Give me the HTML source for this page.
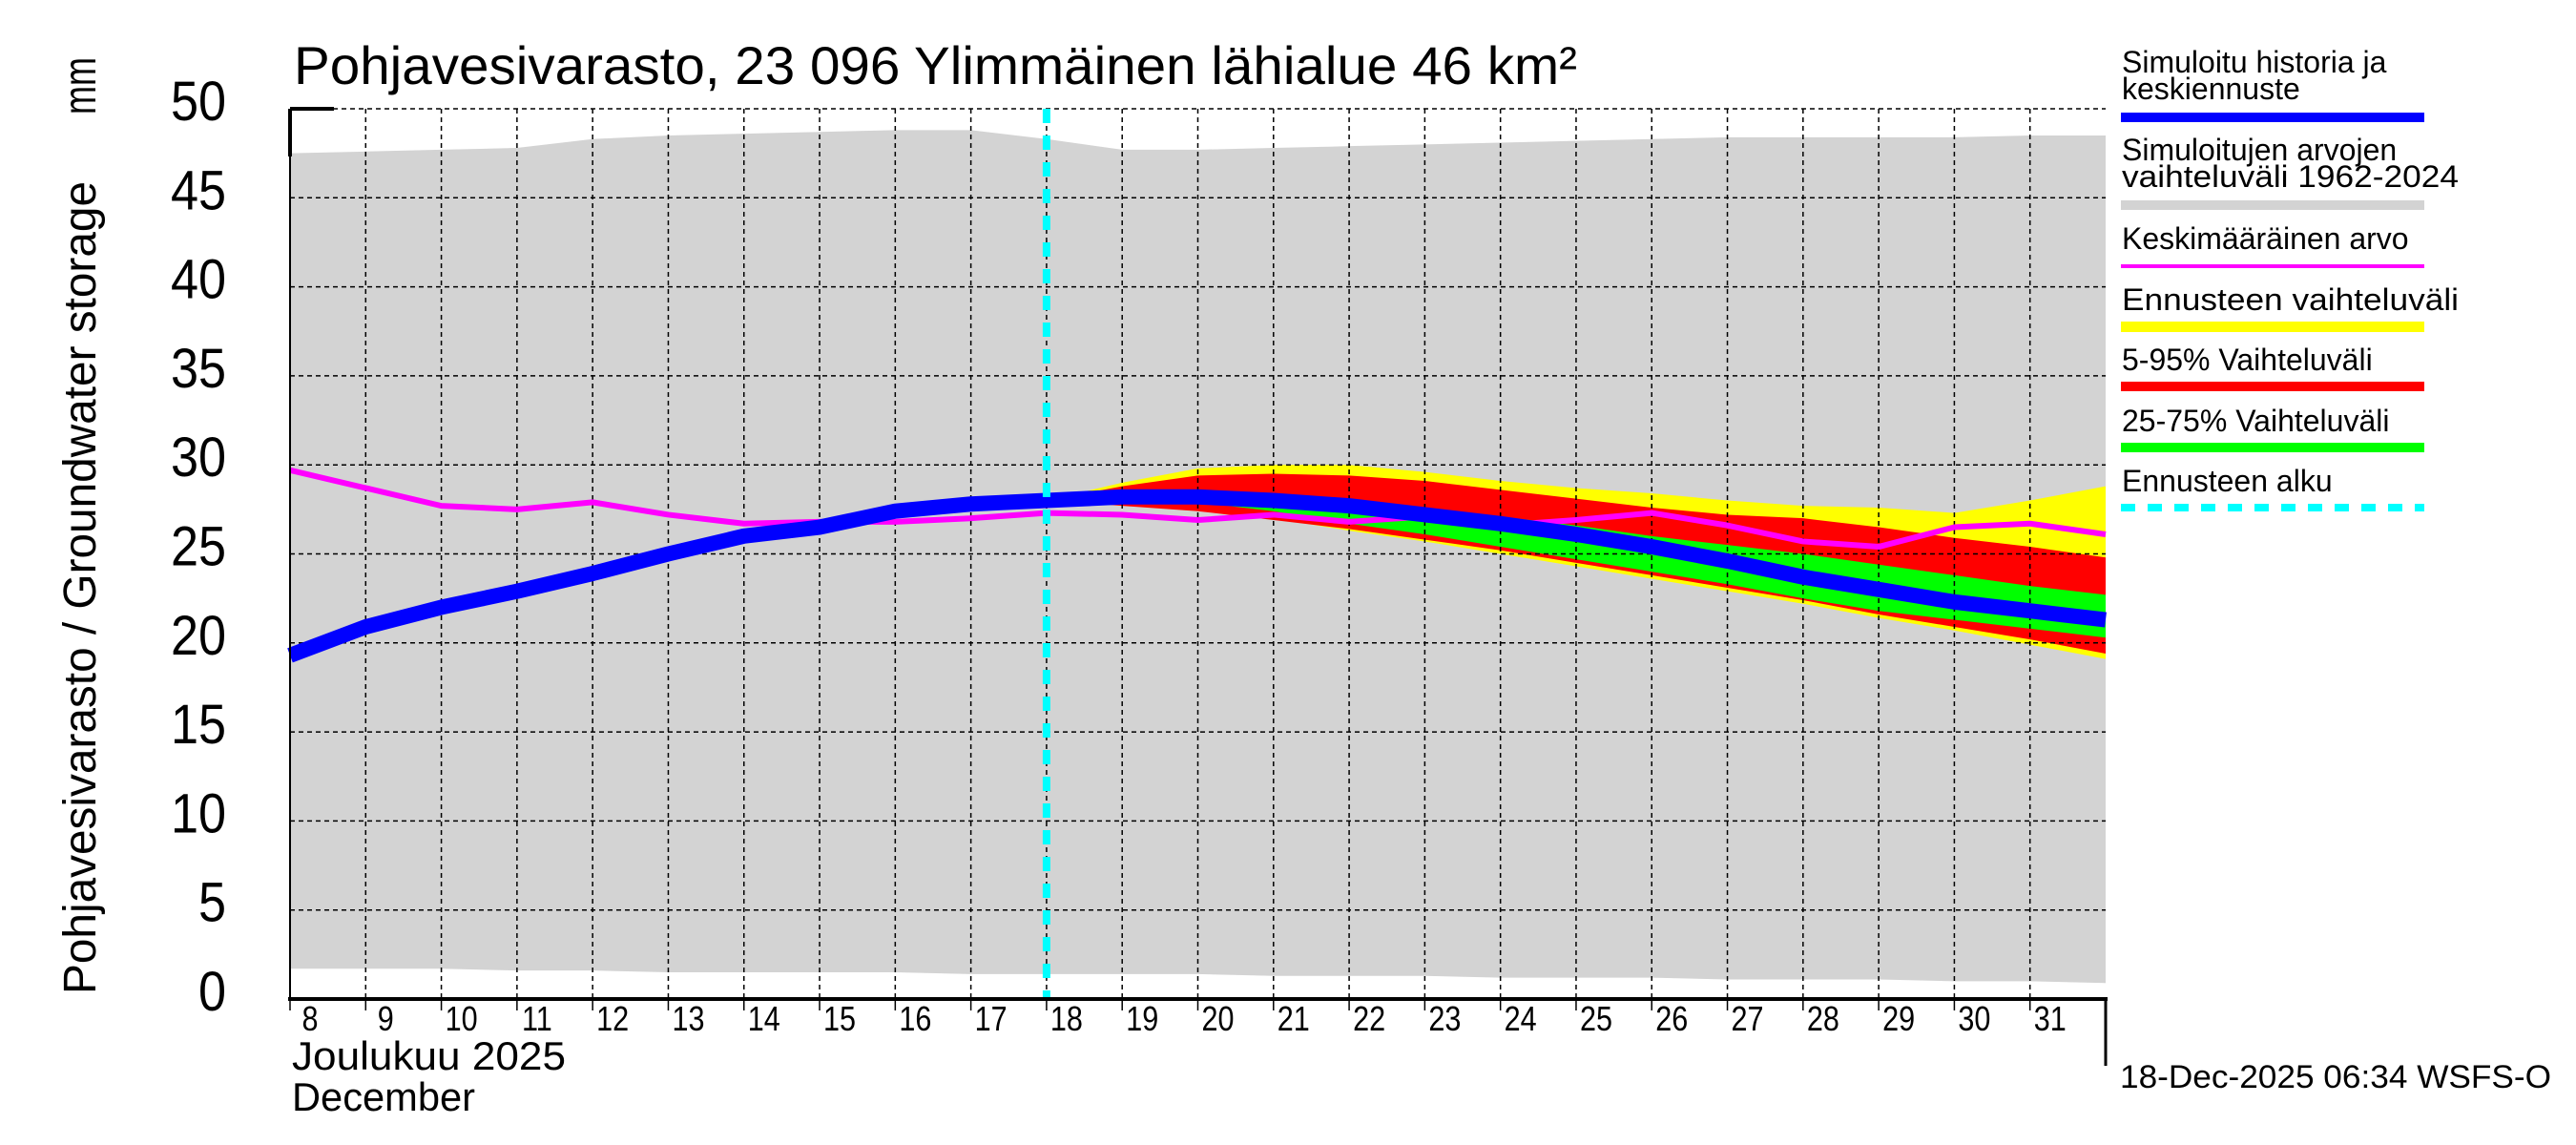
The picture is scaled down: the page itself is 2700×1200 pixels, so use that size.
<!DOCTYPE html>
<html><head><meta charset="utf-8"><style>
html,body{margin:0;padding:0;background:#fff;}
svg{display:block;font-family:"Liberation Sans",sans-serif;}
</style></head><body>
<svg id="chart" width="2700" height="1200" viewBox="0 0 2700 1200" xmlns="http://www.w3.org/2000/svg">
<rect x="0" y="0" width="2700" height="1200" fill="#fff"/>
<g id="bands"></g>
<g id="grid"></g>
<g id="lines"></g>
<g id="axes"></g>
<text x="308" y="88" font-size="56" textLength="1345" lengthAdjust="spacingAndGlyphs">Pohjavesivarasto, 23 096 Ylimmäinen lähialue 46 km²</text>
<text transform="translate(100,1042) rotate(-90)" text-anchor="start" font-size="48" textLength="852" lengthAdjust="spacingAndGlyphs">Pohjavesivarasto / Groundwater storage</text>
<text transform="translate(100,120) rotate(-90)" text-anchor="start" font-size="48" textLength="60" lengthAdjust="spacingAndGlyphs">mm</text>
<text x="306" y="1121" font-size="42" textLength="287" lengthAdjust="spacingAndGlyphs">Joulukuu  2025</text>
<text x="306" y="1164" font-size="42" textLength="192" lengthAdjust="spacingAndGlyphs">December</text>
<text x="2222" y="1140" font-size="34" textLength="452" lengthAdjust="spacingAndGlyphs">18-Dec-2025 06:34 WSFS-O</text>
<g id="legend" font-size="32">
  <g>
    <text x="2224" y="76">Simuloitu historia ja</text>
    <text x="2224" y="104">keskiennuste</text>
    <rect x="2223" y="118" width="318" height="10" fill="#0000ff"/>
  </g>
  <g>
    <text x="2224" y="168">Simuloitujen arvojen</text>
    <text x="2224" y="196" textLength="353" lengthAdjust="spacingAndGlyphs">vaihteluväli 1962-2024</text>
    <rect x="2223" y="210" width="318" height="10" fill="#d3d3d3"/>
  </g>
  <g>
    <text x="2224" y="261">Keskimääräinen arvo</text>
    <rect x="2223" y="277" width="318" height="4" fill="#ff00ff"/>
  </g>
  <g>
    <text x="2224" y="325" textLength="353" lengthAdjust="spacingAndGlyphs">Ennusteen vaihteluväli</text>
    <rect x="2223" y="337" width="318" height="11" fill="#ffff00"/>
  </g>
  <g>
    <text x="2224" y="388">5-95% Vaihteluväli</text>
    <rect x="2223" y="400" width="318" height="10" fill="#ff0000"/>
  </g>
  <g>
    <text x="2224" y="452">25-75% Vaihteluväli</text>
    <rect x="2223" y="464" width="318" height="10" fill="#00ff00"/>
  </g>
  <g>
    <text x="2224" y="515">Ennusteen alku</text>
    <line x1="2223" y1="532" x2="2541" y2="532" stroke="#00ffff" stroke-width="8" stroke-dasharray="15 13"/>
  </g>
</g>
</svg>
<script>
// ---- data (t = days since 8 Dec 00:00) ----
const dayLabels = [8,9,10,11,12,13,14,15,16,17,18,19,20,21,22,23,24,25,26,27,28,29,30,31];
const yTicks = [0,5,10,15,20,25,30,35,40,45,50];
const histT = [0,1,2,3,4,5,6,7,8,9,10,11,12,13,14,15,16,17,18,19,20,21,22,23,24];
const greyHigh = [47.5,47.6,47.7,47.8,48.3,48.5,48.6,48.7,48.8,48.8,48.3,47.7,47.7,47.8,47.9,48.0,48.1,48.2,48.3,48.4,48.4,48.4,48.4,48.5,48.5];
const greyLow = [1.7,1.7,1.7,1.6,1.6,1.5,1.5,1.5,1.5,1.4,1.4,1.4,1.4,1.3,1.3,1.3,1.2,1.2,1.2,1.1,1.1,1.1,1.0,1.0,0.9];
const medianLine = [19.3,20.9,22.0,22.9,23.9,25.0,26.0,26.5,27.4,27.8,28.0,28.2,28.2,28.0,27.7,27.2,26.7,26.1,25.4,24.6,23.7,23.0,22.3,21.8,21.3];
const meanLine = [29.7,28.7,27.7,27.5,27.9,27.2,26.7,26.8,26.8,27.0,27.3,27.2,26.9,27.2,26.8,27.1,26.6,26.9,27.3,26.6,25.7,25.4,26.5,26.7,26.1];
const fcT = [10,11,12,13,14,15,16,17,18,19,20,21,22,23,24];
const yellowHigh = [28.0,29.0,29.8,30.0,30.0,29.6,29.1,28.7,28.4,28.0,27.7,27.6,27.3,28.0,28.8];
const yellowLow = [28.0,27.8,27.6,27.0,26.3,25.7,25.0,24.3,23.6,22.9,22.2,21.4,20.7,19.9,19.1];
const redHigh = [28.0,28.8,29.4,29.5,29.4,29.1,28.6,28.1,27.6,27.2,27.0,26.5,25.9,25.4,24.8];
const redLow = [28.0,27.7,27.4,26.9,26.4,25.8,25.2,24.5,23.8,23.1,22.4,21.6,20.9,20.2,19.4];
const greenHigh = [28.0,28.4,28.5,28.3,28.0,27.6,27.1,26.6,26.0,25.5,25.0,24.4,23.8,23.2,22.7];
const greenLow = [28.0,28.0,27.9,27.4,26.7,26.1,25.4,24.7,24.0,23.3,22.5,21.8,21.3,20.8,20.3];
const forecastStart = 10;

// ---- axes functions ----
const X0=304, X1=2207, TMAX=24, Y0=1047, Y50=114;
function xs(t){return X0+(X1-X0)*t/TMAX;}
function ys(v){return Y0-(Y0-Y50)*v/50;}
const NS='http://www.w3.org/2000/svg';
function mk(tag,attrs,parent){const e=document.createElementNS(NS,tag);for(const k in attrs)e.setAttribute(k,attrs[k]);parent.appendChild(e);return e;}
function band(ts,hi,lo,color,name){
  let d='M'+ts.map((t,i)=>xs(t)+','+ys(hi[i])).join(' L');
  for(let i=ts.length-1;i>=0;i--)d+=' L'+xs(ts[i])+','+ys(lo[i]);
  const p=mk('path',{d:d+' Z',fill:color},document.getElementById('bands'));
  
  
}
function line(ts,vals,color,w,name){
  const p=mk('path',{d:'M'+ts.map((t,i)=>xs(t)+','+ys(vals[i])).join(' L'),fill:'none',stroke:color,'stroke-width':w,'stroke-linejoin':'round'},document.getElementById('lines'));
  
  
}
band(histT,greyHigh,greyLow,'#d3d3d3','historical-range-band');
band(fcT,yellowHigh,yellowLow,'#ffff00','forecast-range-band');
band(fcT,redHigh,redLow,'#ff0000','band-5-95');
band(fcT,greenHigh,greenLow,'#00ff00','band-25-75');

const grid=document.getElementById('grid');
yTicks.forEach(v=>{
  if(v===0)return;
  const l=mk('line',{x1:X0,x2:X1,y1:ys(v),y2:ys(v),stroke:'#000','stroke-width':1.5,'stroke-dasharray':'5 4'},grid);
  
  
});
dayLabels.forEach((d,i)=>{
  if(i===0)return;
  const l=mk('line',{x1:xs(i),x2:xs(i),y1:Y50,y2:Y0,stroke:'#000','stroke-width':1.5,'stroke-dasharray':'5 4'},grid);
  
  
});

line(histT,meanLine,'#ff00ff',6,'mean-line');
line(histT,medianLine,'#0000ff',16,'median-line');
const cy=mk('line',{x1:xs(forecastStart),x2:xs(forecastStart),y1:Y50,y2:Y0,stroke:'#00ffff','stroke-width':8,'stroke-dasharray':'15 13'},document.getElementById('lines'));



const ax=document.getElementById('axes');
mk('line',{x1:X0,x2:X0,y1:Y50,y2:Y0+2,stroke:'#000','stroke-width':2},ax);
mk('line',{x1:X0,x2:X0+46,y1:Y50,y2:Y50,stroke:'#000','stroke-width':4},ax);
mk('line',{x1:X0,x2:X0,y1:Y50,y2:Y50+50,stroke:'#000','stroke-width':4},ax);
mk('line',{x1:X0-2,x2:X1+2,y1:Y0,y2:Y0,stroke:'#000','stroke-width':4},ax);
mk('line',{x1:X1,x2:X1,y1:Y0,y2:1117,stroke:'#000','stroke-width':3},ax);
yTicks.forEach(v=>{
  const t=mk('text',{transform:'translate(237,'+(ys(v)+12)+') scale(0.9,1)','text-anchor':'end','font-size':58},ax);
  t.textContent=v;
  
  
});
dayLabels.forEach((d,i)=>{
  mk('line',{x1:xs(i),x2:xs(i),y1:Y0,y2:Y0+12,stroke:'#000','stroke-width':1.5},ax);
  const t=mk('text',{transform:'translate('+(xs(i)+21)+',1080) scale(0.85,1)','text-anchor':'middle','font-size':36},ax);
  t.textContent=d;
  
  
});
</script>
</body></html>
